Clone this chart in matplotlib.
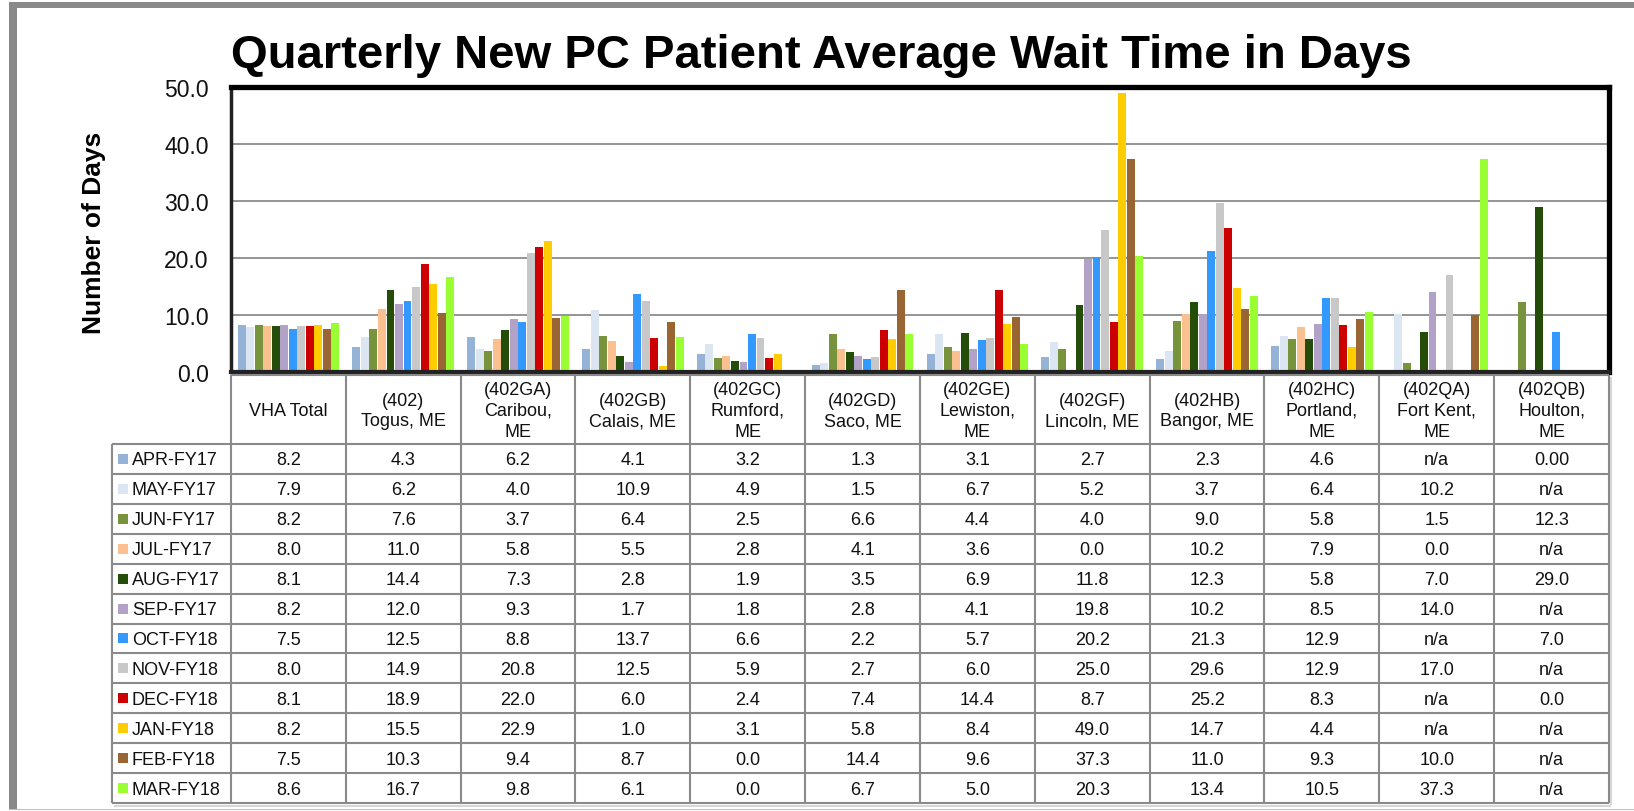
import numpy as np
import matplotlib
matplotlib.use("Agg")
import matplotlib.pyplot as plt
from matplotlib.patches import Rectangle

plt.rcParams['font.family'] = ['Liberation Sans', 'DejaVu Sans']

months = ['APR-FY17', 'MAY-FY17', 'JUN-FY17', 'JUL-FY17', 'AUG-FY17', 'SEP-FY17',
          'OCT-FY18', 'NOV-FY18', 'DEC-FY18', 'JAN-FY18', 'FEB-FY18', 'MAR-FY18']
colors = ['#95b3d7', '#dce6f2', '#77933c', '#fac090', '#254d0a', '#b3a2c7',
          '#3399ff', '#c8c8c8', '#cc0000', '#ffcc00', '#996633', '#99ff33']
sites = ['VHA Total', '(402)\nTogus, ME', '(402GA)\nCaribou,\nME', '(402GB)\nCalais, ME',
         '(402GC)\nRumford,\nME', '(402GD)\nSaco, ME', '(402GE)\nLewiston,\nME',
         '(402GF)\nLincoln, ME', '(402HB)\nBangor, ME', '(402HC)\nPortland,\nME',
         '(402QA)\nFort Kent,\nME', '(402QB)\nHoulton,\nME']

# one list per site, in month order, as printed in the table
vha      = ['8.2', '7.9', '8.2', '8.0', '8.1', '8.2', '7.5', '8.0', '8.1', '8.2', '7.5', '8.6']
togus    = ['4.3', '6.2', '7.6', '11.0', '14.4', '12.0', '12.5', '14.9', '18.9', '15.5', '10.3', '16.7']
caribou  = ['6.2', '4.0', '3.7', '5.8', '7.3', '9.3', '8.8', '20.8', '22.0', '22.9', '9.4', '9.8']
calais   = ['4.1', '10.9', '6.4', '5.5', '2.8', '1.7', '13.7', '12.5', '6.0', '1.0', '8.7', '6.1']
rumford  = ['3.2', '4.9', '2.5', '2.8', '1.9', '1.8', '6.6', '5.9', '2.4', '3.1', '0.0', '0.0']
saco     = ['1.3', '1.5', '6.6', '4.1', '3.5', '2.8', '2.2', '2.7', '7.4', '5.8', '14.4', '6.7']
lewiston = ['3.1', '6.7', '4.4', '3.6', '6.9', '4.1', '5.7', '6.0', '14.4', '8.4', '9.6', '5.0']
lincoln  = ['2.7', '5.2', '4.0', '0.0', '11.8', '19.8', '20.2', '25.0', '8.7', '49.0', '37.3', '20.3']
bangor   = ['2.3', '3.7', '9.0', '10.2', '12.3', '10.2', '21.3', '29.6', '25.2', '14.7', '11.0', '13.4']
portland = ['4.6', '6.4', '5.8', '7.9', '5.8', '8.5', '12.9', '12.9', '8.3', '4.4', '9.3', '10.5']
fortkent = ['n/a', '10.2', '1.5', '0.0', '7.0', '14.0', 'n/a', '17.0', 'n/a', 'n/a', '10.0', '37.3']
houlton  = ['0.00', 'n/a', '12.3', 'n/a', '29.0', 'n/a', '7.0', 'n/a', '0.0', 'n/a', 'n/a', 'n/a']

columns = [vha, togus, caribou, calais, rumford, saco, lewiston, lincoln,
           bangor, portland, fortkent, houlton]


def to_num(s):
    return np.nan if s == 'n/a' else float(s)


W, H = 1634, 812
fig = plt.figure(figsize=(W / 100, H / 100), dpi=100)
fig.patch.set_facecolor('white')

# pixel layout
px_left, px_right = 231, 1609
px_top, px_zero = 88, 373
hdr_bot, tab_bot = 445, 804
leg_left = 112

ax = fig.add_axes([px_left / W, 1 - px_zero / H, (px_right - px_left) / W,
                   (px_zero - px_top) / H])

ncol = len(columns)
nser = len(months)
span = 0.89
bw = span / nser
x0 = np.arange(ncol) + 0.5 - span / 2
for i, m in enumerate(months):
    vals = [to_num(col[i]) for col in columns]
    ax.bar(x0 + (i + 0.5) * bw, vals, width=bw * 0.93, color=colors[i],
           linewidth=0, zorder=2)

ax.set_xlim(0, ncol)
ax.set_ylim(0, 50)
ax.set_yticks([0, 10, 20, 30, 40, 50])
ax.set_yticklabels(['0.0', '10.0', '20.0', '30.0', '40.0', '50.0'])
ax.set_xticks([])
ax.tick_params(axis='y', length=0, pad=16, labelsize=16.5, labelcolor='#111111')
ax.yaxis.grid(True, color='#8c8c8c', linewidth=1.3, zorder=0)
ax.set_axisbelow(True)
for s in ['top', 'right']:
    ax.spines[s].set_linewidth(3.8)
    ax.spines[s].set_color('black')
ax.spines['left'].set_linewidth(2.5)
ax.spines['bottom'].set_linewidth(3.0)
ax.spines['left'].set_color('#222222')
ax.spines['bottom'].set_color('#222222')
for s in ax.spines.values():
    s.set_zorder(5)

ax.set_ylabel('Number of Days', fontsize=19, fontweight='bold')
ax.yaxis.set_label_coords((106 - px_left) / (px_right - px_left), 0.49)

fig.text(px_left / W, 1 - 68 / H, 'Quarterly New PC Patient Average Wait Time in Days',
         fontsize=34, fontweight='bold', ha='left', va='baseline')

# ---- table overlay drawn in pixel space ----
tab = fig.add_axes([0, 0, 1, 1], facecolor='none')
tab.set_xlim(0, W)
tab.set_ylim(H, 0)
tab.axis('off')

lc = '#8a8a8a'
lw = 1.5
cw = (px_right - px_left) / ncol
rh = (tab_bot - hdr_bot) / nser
hdr_top = px_zero + 3

# header row
tab.hlines(hdr_top, px_left, px_right, color=lc, lw=lw)
for j in range(ncol + 1):
    tab.vlines(px_left + j * cw, hdr_top, tab_bot, color=lc, lw=lw)
for j, name in enumerate(sites):
    tab.text(px_left + (j + 0.5) * cw, (hdr_top + hdr_bot) / 2 + 1, name,
             ha='center', va='center', fontsize=13, linespacing=1.3, color='#111111')

# data rows
tab.vlines(leg_left, hdr_bot, tab_bot, color=lc, lw=lw)
for i in range(nser + 1):
    tab.hlines(hdr_bot + i * rh, leg_left, px_right, color=lc, lw=lw)
for i, m in enumerate(months):
    yc = hdr_bot + (i + 0.5) * rh
    tab.add_patch(Rectangle((118, yc - 5), 10, 10, color=colors[i], lw=0))
    tab.text(132, yc + 1, m, ha='left', va='center', fontsize=13, color='#111111')
    for j, col in enumerate(columns):
        tab.text(px_left + (j + 0.5) * cw, yc + 1, col[i], ha='center', va='center',
                 fontsize=13, color='#111111')

# light shadow around table
tab.hlines(tab_bot + 2.5, leg_left + 2, px_right + 2, color='#d0d0d0', lw=1.2)
tab.vlines(px_right + 2.5, hdr_top + 2, tab_bot + 2, color='#d0d0d0', lw=1.2)

# outer gray frame (top, left, bottom)
fig.patches.append(Rectangle((9 / W, 1 - 9 / H), 1 - 9 / W, 6 / H, transform=fig.transFigure,
                             color='#8a8a8a', lw=0))
fig.patches.append(Rectangle((9 / W, 1 - 810 / H), 8 / W, 801 / H, transform=fig.transFigure,
                             color='#8a8a8a', lw=0))
fig.patches.append(Rectangle((9 / W, 1 - 811 / H), 1 - 9 / W, 1.5 / H, transform=fig.transFigure,
                             color='#bdbdbd', lw=0))

fig.savefig('out.png', dpi=100)
